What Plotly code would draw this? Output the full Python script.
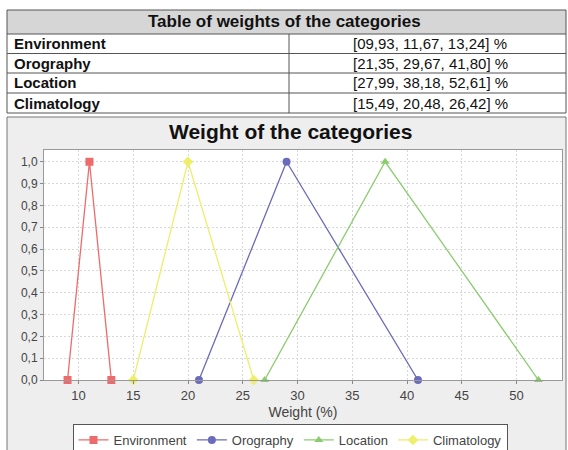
import plotly.graph_objects as go

W, H = 568, 450

# ---- data ----
table_title = "Table of weights of the categories"
categories = ["Environment", "Orography", "Location", "Climatology"]
table_values = ["[09,93, 11,67, 13,24] %", "[21,35, 29,67, 41,80] %",
                "[27,99, 38,18, 52,61] %", "[15,49, 20,48, 26,42] %"]

env_x = [9, 11, 13]
oro_x = [21, 29, 41]
loc_x = [27, 38, 52]
cli_x = [15, 20, 26]
membership = [0, 1, 0]

x_ticks = [10, 15, 20, 25, 30, 35, 40, 45, 50]
y_ticks = [0.0, 0.1, 0.2, 0.3, 0.4, 0.5, 0.6, 0.7, 0.8, 0.9, 1.0]
y_ticktext = ["0,0", "0,1", "0,2", "0,3", "0,4", "0,5", "0,6", "0,7", "0,8", "0,9", "1,0"]

colors = ["#ee6b6b", "#6b6bbb", "#8ccc70", "#eeee6b"]
symbols = ["square", "circle", "triangle-up", "diamond"]
series_x = [env_x, oro_x, loc_x, cli_x]


def px(x):
    return x / W


def py(y):
    return 1 - y / H


FONT = "Liberation Sans, Arial, sans-serif"

fig = go.Figure()
for name, xs, c, s in zip(categories, series_x, colors, symbols):
    fig.add_trace(go.Scatter(
        x=xs, y=membership, name=name, mode="lines+markers",
        line=dict(color=c, width=1.3),
        marker=dict(symbol=s, size=8, color=c),
        cliponaxis=False,
    ))

shapes = []
annotations = []

# table
tl, tr = 7, 566
col = 289
rows_y = [10, 34, 53.5, 73, 93, 113]
shapes.append(dict(type="rect", xref="paper", yref="paper",
                   x0=px(tl), x1=px(tr), y0=py(rows_y[0]), y1=py(rows_y[1]),
                   fillcolor="#d6d6d6", line=dict(width=0), layer="below"))
for yy in rows_y:
    shapes.append(dict(type="line", xref="paper", yref="paper",
                       x0=px(tl), x1=px(tr), y0=py(yy), y1=py(yy),
                       line=dict(color="#555555", width=1)))
for xx in [tl, tr]:
    shapes.append(dict(type="line", xref="paper", yref="paper",
                       x0=px(xx), x1=px(xx), y0=py(rows_y[0]), y1=py(rows_y[-1]),
                       line=dict(color="#555555", width=1)))
shapes.append(dict(type="line", xref="paper", yref="paper",
                   x0=px(col), x1=px(col), y0=py(rows_y[1]), y1=py(rows_y[-1]),
                   line=dict(color="#555555", width=1)))

annotations.append(dict(text="<b>" + table_title + "</b>", xref="paper", yref="paper",
                        x=px(284), y=py(22), showarrow=False,
                        font=dict(size=17, color="#111111", family=FONT),
                        xanchor="center", yanchor="middle"))
for i, (cat, val) in enumerate(zip(categories, table_values)):
    yc = (rows_y[i + 1] + rows_y[i + 2]) / 2
    annotations.append(dict(text="<b>" + cat + "</b>", xref="paper", yref="paper",
                            x=px(12), y=py(yc), showarrow=False,
                            font=dict(size=15, color="#111111", family=FONT),
                            xanchor="left", yanchor="middle"))
    annotations.append(dict(text=val, xref="paper", yref="paper",
                            x=px(430), y=py(yc), showarrow=False,
                            font=dict(size=15, color="#111111", family=FONT),
                            xanchor="center", yanchor="middle"))

# chart panel and white plot area
shapes.append(dict(type="rect", xref="paper", yref="paper",
                   x0=px(7), x1=px(566), y0=py(117), y1=py(455),
                   fillcolor="#eeeeee", line=dict(color="#777777", width=1), layer="below"))
shapes.append(dict(type="rect", xref="paper", yref="paper",
                   x0=px(44), x1=px(562), y0=py(380), y1=py(150),
                   fillcolor="white", line=dict(width=0), layer="below"))

annotations.append(dict(text="<b>Weight of the categories</b>", xref="paper", yref="paper",
                        x=px(290), y=py(131), showarrow=False,
                        font=dict(size=21, color="#111111", family=FONT),
                        xanchor="center", yanchor="middle"))

fig.update_layout(
    width=W, height=H,
    margin=dict(l=0, r=0, t=0, b=0, autoexpand=False),
    paper_bgcolor="white",
    plot_bgcolor="white",
    font=dict(family=FONT, size=12, color="#444444"),
    shapes=shapes,
    annotations=annotations,
    xaxis=dict(
        domain=[px(44), px(562)],
        range=[6.85, 54.15],
        tickvals=x_ticks,
        ticks="outside", ticklen=3, tickcolor="#888888",
        showline=True, linecolor="#999999", mirror=True,
        showgrid=True, gridcolor="#d8d8d8", griddash="2px,2px",
        zeroline=False, automargin=False,
        tickfont=dict(size=13, color="#444444"),
        title=dict(text="Weight (%)", font=dict(size=14, color="#444444"), standoff=5),
    ),
    yaxis=dict(
        domain=[py(380), py(150)],
        range=[0, 1.054],
        tickvals=y_ticks, ticktext=y_ticktext,
        ticks="outside", ticklen=3, tickcolor="#888888",
        showline=True, linecolor="#999999", mirror=True,
        showgrid=True, gridcolor="#d8d8d8", griddash="2px,2px",
        zeroline=False, automargin=False,
        tickfont=dict(size=12, color="#444444"),
    ),
    legend=dict(
        orientation="h", x=px(290), xanchor="center", y=py(424), yanchor="top",
        bgcolor="white", bordercolor="#555555", borderwidth=1,
        font=dict(size=13, color="#444444"),
        itemwidth=30, tracegroupgap=0,
    ),
    showlegend=True,
)

fig.write_html("out.html",
               config={"displayModeBar": False},
               post_script="document.body.style.margin='0';document.body.style.padding='0';")
